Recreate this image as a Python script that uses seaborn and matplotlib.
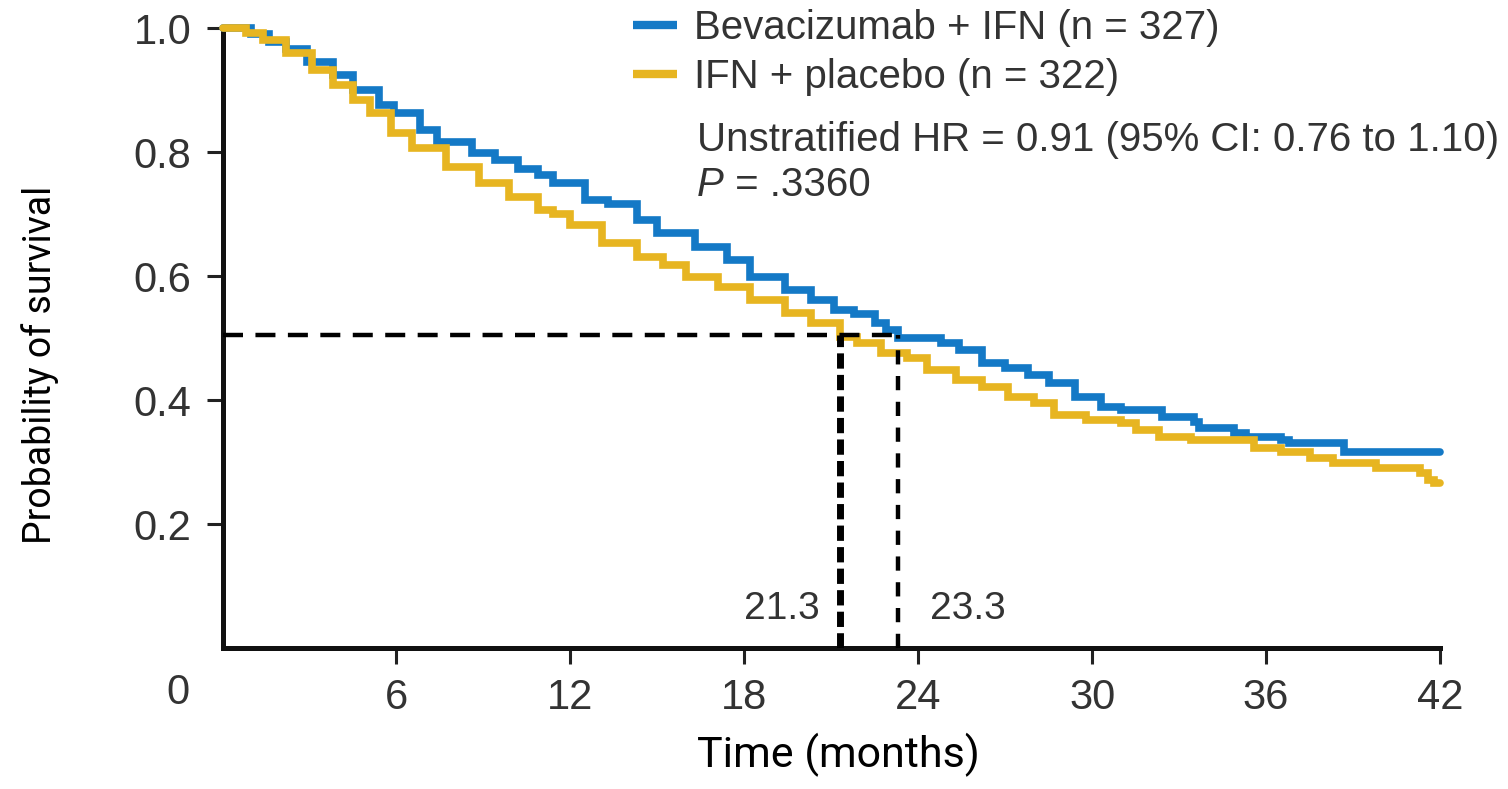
import matplotlib
matplotlib.use("Agg")
import matplotlib.pyplot as plt
import seaborn as sns
import pandas as pd
from matplotlib.lines import Line2D

# Kaplan-Meier overall survival estimates (time in months)
bev_time = [0, 1.0, 1.6, 2.2, 2.9, 3.8, 4.5, 5.4, 5.9, 6.8, 7.4, 8.6, 9.4, 10.2,
            10.9, 11.4, 12.5, 13.3, 14.3, 15.0, 16.3, 17.4, 18.2, 19.4, 20.3, 21.1,
            21.8, 22.5, 22.9, 23.3, 24.8, 25.4, 26.2, 27.0, 27.8, 28.5, 29.4, 30.3,
            31.0, 32.4, 33.5, 33.7, 34.9, 35.3, 36.5, 36.8, 38.7, 42.0]
bev_surv = [1.000, 0.990, 0.978, 0.966, 0.945, 0.924, 0.900, 0.876, 0.863, 0.835,
            0.816, 0.798, 0.787, 0.772, 0.763, 0.750, 0.723, 0.716, 0.690, 0.670,
            0.647, 0.626, 0.598, 0.577, 0.561, 0.545, 0.538, 0.525, 0.513, 0.500,
            0.492, 0.480, 0.460, 0.452, 0.440, 0.427, 0.405, 0.389, 0.384, 0.373,
            0.365, 0.355, 0.347, 0.340, 0.335, 0.331, 0.316, 0.316]

pbo_time = [0, 0.8, 1.4, 2.2, 3.1, 3.8, 4.5, 5.1, 5.8, 6.55, 7.7, 8.85, 9.9, 10.9,
            11.4, 12.0, 13.1, 14.3, 15.2, 16.0, 17.1, 18.2, 19.4, 20.3, 21.3, 21.9,
            22.7, 23.6, 24.3, 25.3, 26.2, 27.1, 28.0, 28.7, 29.8, 31.0, 31.5, 32.3,
            33.4, 35.6, 36.5, 37.5, 38.3, 39.8, 41.3, 41.6, 41.8, 42.0]
pbo_surv = [1.000, 0.992, 0.981, 0.960, 0.932, 0.908, 0.884, 0.863, 0.831, 0.806,
            0.776, 0.750, 0.727, 0.706, 0.700, 0.682, 0.653, 0.631, 0.618, 0.598,
            0.582, 0.561, 0.540, 0.524, 0.502, 0.492, 0.476, 0.468, 0.448, 0.432,
            0.421, 0.405, 0.395, 0.376, 0.368, 0.363, 0.352, 0.340, 0.335, 0.323,
            0.316, 0.306, 0.298, 0.290, 0.282, 0.271, 0.266, 0.266]

arm_labels = ["Bevacizumab + IFN (n = 327)", "IFN + placebo (n = 322)"]
arm_colors = ["#1479c6", "#e7b521"]

median_level = 0.505
median_bev = 23.3
median_pbo = 21.3

x_ticks = [6, 12, 18, 24, 30, 36, 42]
y_ticks = [0.2, 0.4, 0.6, 0.8, 1.0]

hr_text = "Unstratified HR = 0.91 (95% CI: 0.76 to 1.10)"
p_text = " = .3360"

df = pd.concat([
    pd.DataFrame({"time": bev_time, "survival": bev_surv, "arm": arm_labels[0]}),
    pd.DataFrame({"time": pbo_time, "survival": pbo_surv, "arm": arm_labels[1]}),
], ignore_index=True)

sns.set_theme(style="ticks")
plt.rcParams["font.family"] = ["Liberation Sans", "DejaVu Sans"]

W, H = 1508, 789
fig = plt.figure(figsize=(W / 100, H / 100), dpi=100)
ax = fig.add_axes([222.5 / W, (H - 648) / H, (1440 - 222.5) / W, (648 - 28) / H])

sns.lineplot(data=df, x="time", y="survival", hue="arm", hue_order=arm_labels,
             palette=arm_colors, estimator=None, drawstyle="steps-post",
             linewidth=5.5, legend=False, ax=ax, zorder=3)
for ln in ax.lines:
    ln.set_clip_on(False)
    ln.set_solid_joinstyle("miter")

# median reference lines
ax.plot([0, median_bev], [median_level, median_level], color="black", lw=3.2,
        dashes=(4.5, 2.8), zorder=4, solid_capstyle="butt")
ax.plot([median_pbo, median_pbo], [0, median_level], color="black", lw=5.0,
        dashes=(2.2, 0.9), zorder=4)
ax.plot([median_bev, median_bev], [0, median_level], color="black", lw=3.2,
        dashes=(3.2, 2.6), zorder=4)
ax.text(median_pbo - 0.7, 0.063, f"{median_pbo}", ha="right", va="center",
        fontsize=28, color="#333333")
ax.text(median_bev + 1.1, 0.063, f"{median_bev}", ha="left", va="center",
        fontsize=28, color="#333333")

ax.set_xlim(0, 42)
ax.set_ylim(0, 1.0)
ax.set_xticks(x_ticks)
ax.set_yticks(y_ticks)
ax.set_xticklabels([str(v) for v in x_ticks])
ax.set_yticklabels([f"{v:.1f}" for v in y_ticks])
ax.tick_params(axis="both", labelsize=30, labelcolor="#333333", color="#222222",
               length=11.5, width=2.2)
ax.tick_params(axis="x", pad=10)
ax.tick_params(axis="y", pad=11)
sns.despine(ax=ax)
for s in ("left", "bottom"):
    ax.spines[s].set_linewidth(3.6)
    ax.spines[s].set_color("#111111")
    ax.spines[s].set_capstyle("projecting")

# origin label sits left of the corner
ax.text(-1.53, -45 / 620, "0", ha="center", va="center", fontsize=30,
        color="#333333", clip_on=False)

label_font = ["Liberation Sans Narrow", "DejaVu Sans Condensed", "Roboto", "DejaVu Sans"]
ax.set_xlabel("")
ax.set_ylabel("")
fig.text(838 / W, 1 - 755 / H, "Time (months)", ha="center", va="center",
         fontsize=31, family=label_font, color="black")
fig.text(40 / W, 1 - 365 / H, "Probability of survival", ha="center", va="center",
         rotation=90, fontsize=27, family=label_font, color="black")

handles = [Line2D([], [], color=c, lw=6, solid_capstyle="butt") for c in arm_colors]
leg = fig.legend(handles, arm_labels, loc="upper left",
                 bbox_to_anchor=(633 / W, 1 - 9 / H), frameon=False,
                 fontsize=29, handlelength=1.1, handletextpad=0.42,
                 labelspacing=0.28, borderpad=0, borderaxespad=0)
for t in leg.get_texts():
    t.set_color("#333333")

fig.text(697 / W, 1 - 140 / H, hr_text, ha="left", va="center", fontsize=29,
         color="#333333")
tp = fig.text(697 / W, 1 - 185 / H, "P", ha="left", va="center", fontsize=29,
              style="italic", color="#333333")
ax.annotate(p_text, xy=(1, 0), xycoords=tp, ha="left", va="bottom",
            fontsize=29, color="#333333")

fig.savefig("out.png", dpi=100)
